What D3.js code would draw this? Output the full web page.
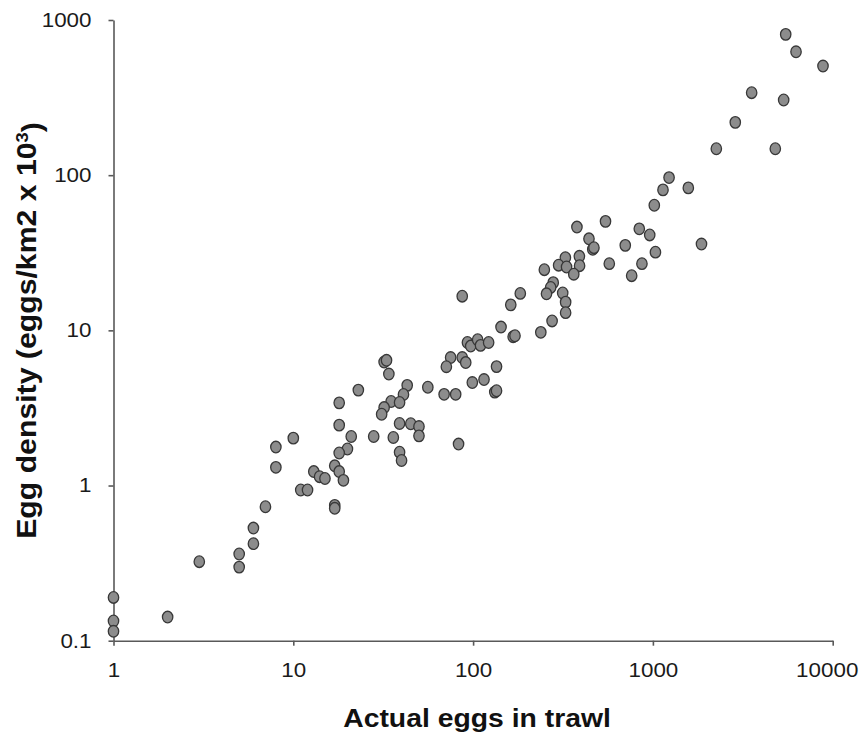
<!DOCTYPE html>
<html><head><meta charset="utf-8">
<script src="https://cdn.jsdelivr.net/npm/d3@7"></script>
<style>body{margin:0;background:#fff}svg{display:block}</style>
</head><body>
<svg id="c" width="863" height="738"></svg>
<script>
const actualEggs = [1,1,1,2,3,5,5,6,6,7,8,8,10,11,12,13,14,15,17,18,19,17,17,18,18,20,18,21,23,28,
  32,33,34,36,39,39,40,43,45,50,50,41,35,39,32,31,56,69,80,83,75,71,87,91,99,115,132,135,135,93,
  97,106,110,122,87,143,162,167,171,183,238,275,249,326,390,299,331,391,363,279,270,256,315,327,327,378,441,463,470,545,
  572,702,762,840,869,960,1033,1018,1138,1230,1574,1863,2253,2872,3542,4795,5337,5478,6252,8831];
const eggDensity = [0.19,0.134,0.115,0.142,0.323,0.362,0.298,0.532,0.422,0.73,1.77,1.31,2.02,0.936,0.936,1.23,1.14,1.11,1.34,1.23,1.08,0.745,0.713,2.45,3.41,1.72,1.62,2.07,4.12,2.07,
  6.25,6.41,5.23,2.04,2.51,1.64,1.45,4.42,2.5,2.4,2.09,3.86,3.48,3.43,3.18,2.88,4.3,3.87,3.87,1.85,6.68,5.83,6.68,6.2,4.61,4.82,4.0,4.08,5.84,8.35,
  7.92,8.7,8.0,8.35,16.6,10.5,14.6,9.1,9.23,17.3,9.71,11.5,24.6,29.4,30.0,26.3,25.6,26.1,23.0,20.3,18.9,17.2,17.4,15.2,13.0,46.3,38.9,33.3,34.1,50.4,
  26.9,35.3,22.5,45.1,26.9,41.2,31.9,64.0,80.4,96.5,82.8,36.0,148,219,340,148,305,808,624,505];
const xTicks = [1,10,100,1000,10000];
const yTicks = [0.1,1,10,100,1000];
const xTitle = "Actual eggs in trawl";
const yTitleMain = "Egg density (eggs/km2 x 10";
const yTitleSup = "3";

const svg = d3.select("#c");
const x = d3.scaleLog().domain([1,10000]).range([113.5,832.7]);
const y = d3.scaleLog().domain([0.1,1000]).range([640.7,20]);
const font = "'Liberation Sans', Arial, sans-serif";
const sx = 1.12;

const xAxis = svg.append("g").attr("transform","translate(0,640.7)")
  .call(d3.axisBottom(x).tickValues(xTicks).tickFormat(d3.format("d")).tickSize(5).tickSizeOuter(0).tickPadding(17));
const yAxis = svg.append("g").attr("transform","translate(113.5,0)")
  .call(d3.axisLeft(y).tickValues(yTicks).tickFormat(d => d < 1 ? String(d) : d3.format("d")(d)).tickSize(5).tickSizeOuter(0).tickPadding(17));
[xAxis,yAxis].forEach(g => {
  g.select(".domain").attr("stroke","#595959").attr("stroke-width",1.6);
  g.selectAll(".tick line").attr("stroke","#595959").attr("stroke-width",1.6);
  g.selectAll(".tick text").attr("fill","#1a1a1a").style("font-family",font).style("font-size","20px");
});
xAxis.selectAll(".tick text").each(function(d){
  const t = d3.select(this); const yy = +t.attr("y");
  const shift = d === 10000 ? -6 : 0;
  t.attr("y",0).attr("transform",`translate(${shift},${yy}) scale(${sx},1)`);
});
yAxis.selectAll(".tick text").each(function(){
  const t = d3.select(this); const xx = +t.attr("x");
  t.attr("x",0).attr("transform",`translate(${xx},0) scale(${sx},1)`);
});

const pts = actualEggs.map((a,i)=>({a, d: eggDensity[i]}));
svg.append("g").selectAll("ellipse").data(pts).join("ellipse")
  .attr("cx", p => x(p.a)).attr("cy", p => y(p.d))
  .attr("rx",5.2).attr("ry",5.8)
  .attr("fill","#8c8c8c").attr("stroke","#383838").attr("stroke-width",1.3);

svg.append("text").attr("transform","translate(477,727.3) scale(1.09,1)").attr("text-anchor","middle")
  .style("font-family",font).style("font-size","26px").style("font-weight","bold").attr("fill","#111")
  .text(xTitle);

const yt = svg.append("text").attr("transform","translate(36,330.5) scale(1,1.08) rotate(-90)").attr("text-anchor","middle")
  .style("font-family",font).style("font-size","28px").style("font-weight","bold").attr("fill","#111");
yt.append("tspan").text(yTitleMain);
yt.append("tspan").attr("dy","-0.45em").style("font-size","17px").text(yTitleSup);
yt.append("tspan").attr("dy","0.45em").text(")");
</script>
</body></html>
